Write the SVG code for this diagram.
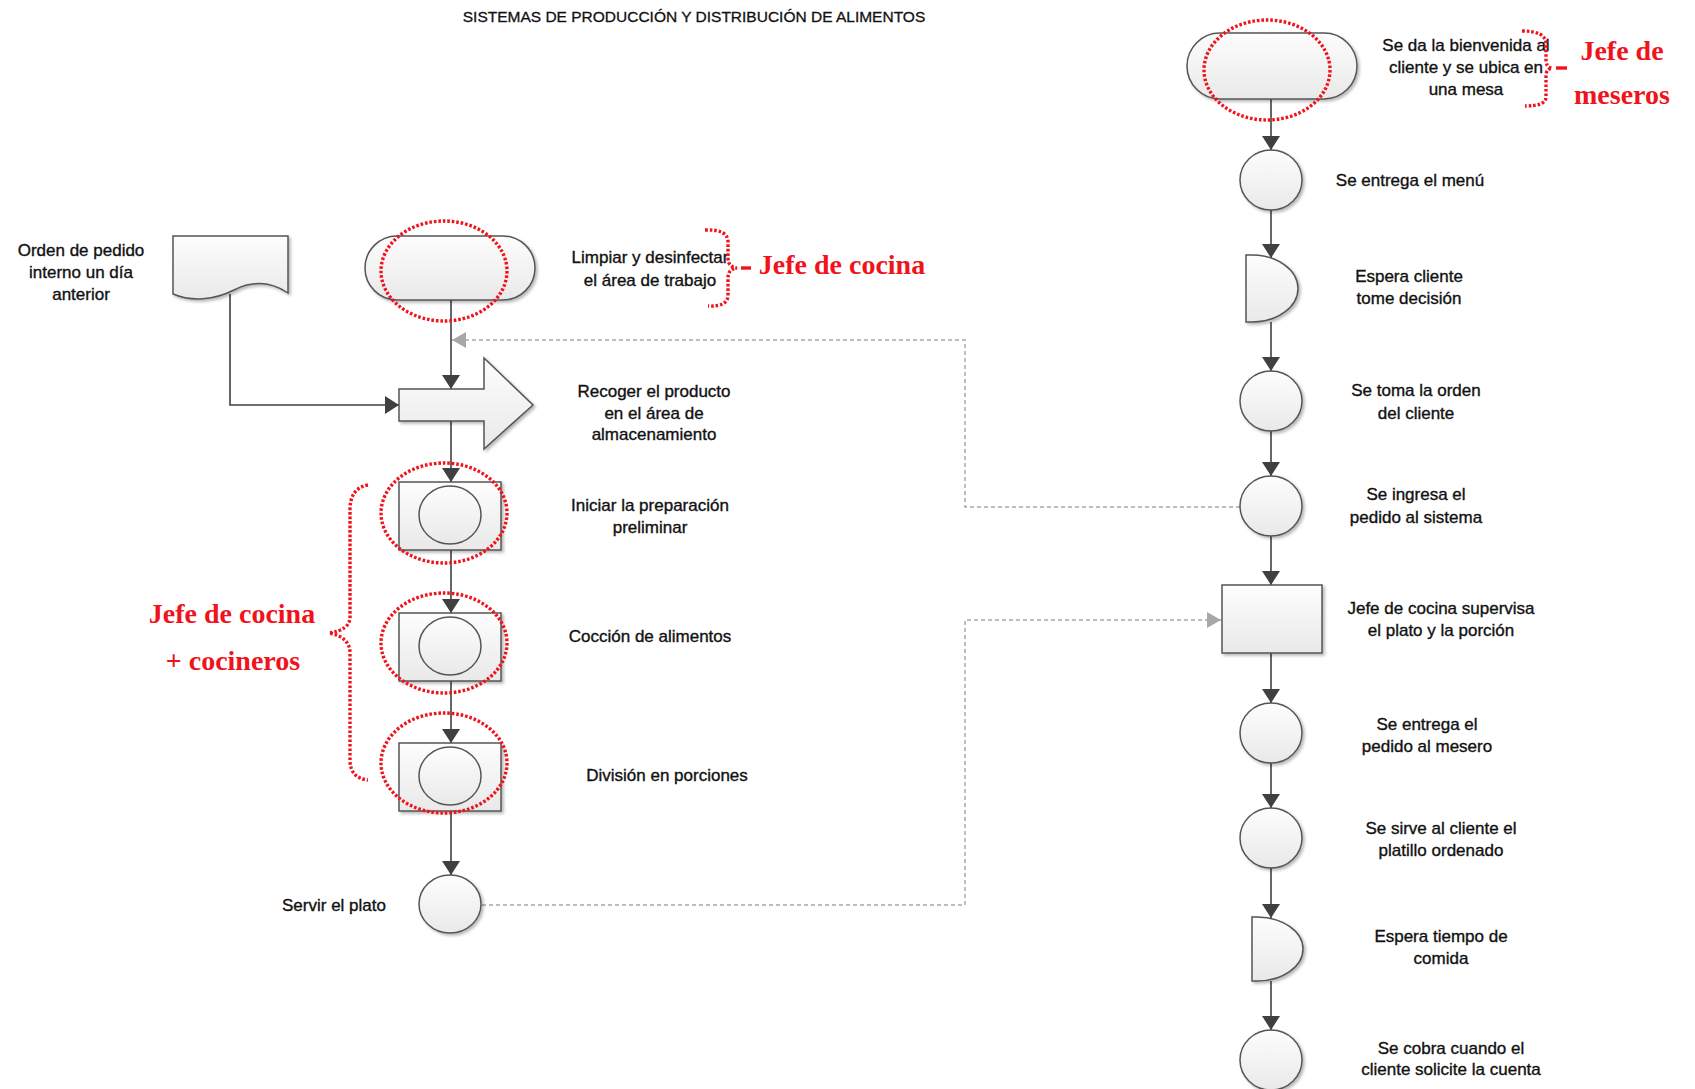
<svg xmlns="http://www.w3.org/2000/svg" width="1695" height="1089" viewBox="0 0 1695 1089">
  <defs>
    <linearGradient id="shapeFill" x1="0" y1="0" x2="0" y2="1">
      <stop offset="0" stop-color="#fdfdfd"/>
      <stop offset="1" stop-color="#e9e9e9"/>
    </linearGradient>
    <filter id="shadow" x="-20%" y="-20%" width="150%" height="150%">
      <feDropShadow dx="2" dy="2" stdDeviation="1.5" flood-color="#000" flood-opacity="0.28"/>
    </filter>
    <marker id="arrowDark" viewBox="0 0 14 18" refX="14" refY="9" markerWidth="14" markerHeight="18" markerUnits="userSpaceOnUse" orient="auto">
      <path d="M0,0 L14,9 L0,18 Z" fill="#404040"/>
    </marker>
    <marker id="arrowGray" viewBox="0 0 14 16" refX="14" refY="8" markerWidth="14" markerHeight="16" markerUnits="userSpaceOnUse" orient="auto">
      <path d="M0,0 L14,8 L0,16 Z" fill="#a8a8a8"/>
    </marker>
    <style>
      .shape { fill: url(#shapeFill); stroke: #555; stroke-width: 1.5; filter: url(#shadow); }
      .inner { fill: url(#shapeFill); stroke: #555; stroke-width: 1.5; }
      .flow { fill: none; stroke: #404040; stroke-width: 1.6; marker-end: url(#arrowDark); }
      .link { fill: none; stroke: #a8a8a8; stroke-width: 1.5; stroke-dasharray: 4 3; marker-end: url(#arrowGray); }
      .lbl { font-family: "Liberation Sans", Arial, sans-serif; font-size: 17px; fill: #111; stroke: #111; stroke-width: 0.35; text-anchor: middle; }
      .title { font-family: "Liberation Sans", Arial, sans-serif; font-size: 15.5px; fill: #111; stroke: #111; stroke-width: 0.3; text-anchor: middle; }
      .note { font-family: "Liberation Serif", "Times New Roman", serif; font-weight: bold; font-size: 28px; fill: #f0131b; text-anchor: middle; }
      .mark { fill: none; stroke: #f0131b; stroke-width: 3.4; stroke-dasharray: 2.6 1.9; }
      .tick { fill: none; stroke: #f0131b; stroke-width: 3.4; }
    </style>
  </defs>

  <rect x="0" y="0" width="1695" height="1089" fill="#ffffff"/>

  <text class="title" x="694" y="22">SISTEMAS DE PRODUCCIÓN Y DISTRIBUCIÓN DE ALIMENTOS</text>

  <!-- connectors -->
  <g id="connectors">
    <!-- kitchen column -->
    <path class="flow" d="M451,300 V389"/>
    <path class="flow" d="M230,294 V405 H399"/>
    <path class="flow" d="M451,421 V482"/>
    <path class="flow" d="M451,550 V613"/>
    <path class="flow" d="M451,681 V743"/>
    <path class="flow" d="M451,811 V875"/>
    <!-- dining room column -->
    <path class="flow" d="M1271,99 V150"/>
    <path class="flow" d="M1271,210 V258"/>
    <path class="flow" d="M1271,322 V371"/>
    <path class="flow" d="M1271,431 V476"/>
    <path class="flow" d="M1271,536 V585"/>
    <path class="flow" d="M1271,653 V703"/>
    <path class="flow" d="M1271,763 V808"/>
    <path class="flow" d="M1271,868 V918"/>
    <path class="flow" d="M1271,981 V1030"/>
    <!-- cross links between columns -->
    <path class="link" d="M1240,507 H965 V340 H452"/>
    <path class="link" d="M482,905 H965 V620 H1221"/>
  </g>

  <!-- kitchen nodes -->
  <g id="orden-pedido">
    <path class="shape" d="M173,236 H288 V293 C270,281 252,281 234,290 C214,300 192,302 173,294 Z"/>
    <text class="lbl" x="81" y="256">Orden de pedido</text>
    <text class="lbl" x="81" y="278">interno un día</text>
    <text class="lbl" x="81" y="300">anterior</text>
  </g>

  <g id="limpiar">
    <rect class="shape" x="365" y="236" width="170" height="64" rx="32" ry="32"/>
    <text class="lbl" x="650" y="263">Limpiar y desinfectar</text>
    <text class="lbl" x="650" y="286">el área de trabajo</text>
  </g>

  <g id="recoger">
    <path class="shape" d="M399,389 H484 V358 L533,405 L484,449 V421 H399 Z"/>
    <text class="lbl" x="654" y="397">Recoger el producto</text>
    <text class="lbl" x="654" y="419">en el área de</text>
    <text class="lbl" x="654" y="440">almacenamiento</text>
  </g>

  <g id="iniciar">
    <rect class="shape" x="399" y="482" width="102" height="68"/>
    <ellipse class="inner" cx="450" cy="515" rx="31" ry="29"/>
    <text class="lbl" x="650" y="511">Iniciar la preparación</text>
    <text class="lbl" x="650" y="533">preliminar</text>
  </g>

  <g id="coccion">
    <rect class="shape" x="399" y="613" width="102" height="68"/>
    <ellipse class="inner" cx="450" cy="646" rx="31" ry="29"/>
    <text class="lbl" x="650" y="642">Cocción de alimentos</text>
  </g>

  <g id="division">
    <rect class="shape" x="399" y="743" width="102" height="68"/>
    <ellipse class="inner" cx="450" cy="776" rx="31" ry="29"/>
    <text class="lbl" x="667" y="781">División en porciones</text>
  </g>

  <g id="servir">
    <ellipse class="shape" cx="450" cy="904" rx="31" ry="29"/>
    <text class="lbl" x="334" y="911">Servir el plato</text>
  </g>

  <!-- dining room nodes -->
  <g id="bienvenida">
    <rect class="shape" x="1187" y="33" width="170" height="66" rx="33" ry="33"/>
    <text class="lbl" x="1466" y="51">Se da la bienvenida al</text>
    <text class="lbl" x="1466" y="73">cliente y se ubica en</text>
    <text class="lbl" x="1466" y="95">una mesa</text>
  </g>

  <g id="menu">
    <ellipse class="shape" cx="1271" cy="180" rx="31" ry="30"/>
    <text class="lbl" x="1410" y="186">Se entrega el menú</text>
  </g>

  <g id="espera-decision">
    <path class="shape" d="M1246,255 H1252 A46,33.5 0 0 1 1252,322 H1246 Z"/>
    <text class="lbl" x="1409" y="282">Espera cliente</text>
    <text class="lbl" x="1409" y="304">tome decisión</text>
  </g>

  <g id="toma-orden">
    <ellipse class="shape" cx="1271" cy="401" rx="31" ry="30"/>
    <text class="lbl" x="1416" y="396">Se toma la orden</text>
    <text class="lbl" x="1416" y="419">del cliente</text>
  </g>

  <g id="ingresa-pedido">
    <ellipse class="shape" cx="1271" cy="506" rx="31" ry="30"/>
    <text class="lbl" x="1416" y="500">Se ingresa el</text>
    <text class="lbl" x="1416" y="523">pedido al sistema</text>
  </g>

  <g id="supervisa">
    <rect class="shape" x="1222" y="585" width="100" height="68"/>
    <text class="lbl" x="1441" y="614">Jefe de cocina supervisa</text>
    <text class="lbl" x="1441" y="636">el plato y la porción</text>
  </g>

  <g id="entrega-mesero">
    <ellipse class="shape" cx="1271" cy="733" rx="31" ry="30"/>
    <text class="lbl" x="1427" y="730">Se entrega el</text>
    <text class="lbl" x="1427" y="752">pedido al mesero</text>
  </g>

  <g id="sirve-cliente">
    <ellipse class="shape" cx="1271" cy="838" rx="31" ry="30"/>
    <text class="lbl" x="1441" y="834">Se sirve al cliente el</text>
    <text class="lbl" x="1441" y="856">platillo ordenado</text>
  </g>

  <g id="espera-comida">
    <path class="shape" d="M1252,917 H1257 A46,32 0 0 1 1257,981 H1252 Z"/>
    <text class="lbl" x="1441" y="942">Espera tiempo de</text>
    <text class="lbl" x="1441" y="964">comida</text>
  </g>

  <g id="cobra">
    <ellipse class="shape" cx="1271" cy="1060" rx="31" ry="30"/>
    <text class="lbl" x="1451" y="1054">Se cobra cuando el</text>
    <text class="lbl" x="1451" y="1075">cliente solicite la cuenta</text>
  </g>

  <!-- responsibility markup -->
  <g id="responsables">
    <ellipse class="mark" cx="444" cy="271" rx="63" ry="50"/>
    <ellipse class="mark" cx="444" cy="513" rx="63" ry="50"/>
    <ellipse class="mark" cx="444" cy="643" rx="63" ry="50"/>
    <ellipse class="mark" cx="444" cy="763" rx="63" ry="50"/>
    <ellipse class="mark" cx="1267" cy="70" rx="63" ry="50"/>

    <path class="mark" d="M705,230 Q728,229 728,242 V258 Q728,267 737,268 Q728,269 728,278 V295 Q728,307 708,306"/>
    <path class="tick" d="M741,268 H751"/>
    <text class="note" x="842" y="274">Jefe de cocina</text>

    <path class="mark" d="M368,485 Q350,488 350,510 V617 Q350,630 329,633 Q350,637 350,653 V760 Q350,778 368,780"/>
    <text class="note" x="232" y="623">Jefe de cocina</text>
    <text class="note" x="233" y="670">+ cocineros</text>

    <path class="mark" d="M1522,31 Q1546,31 1546,44 V60 Q1546,67 1552,68 Q1546,69 1546,76 V97 Q1546,106 1525,106"/>
    <path class="tick" d="M1556,68 H1567"/>
    <text class="note" x="1622" y="60">Jefe de</text>
    <text class="note" x="1622" y="104">meseros</text>
  </g>
</svg>
